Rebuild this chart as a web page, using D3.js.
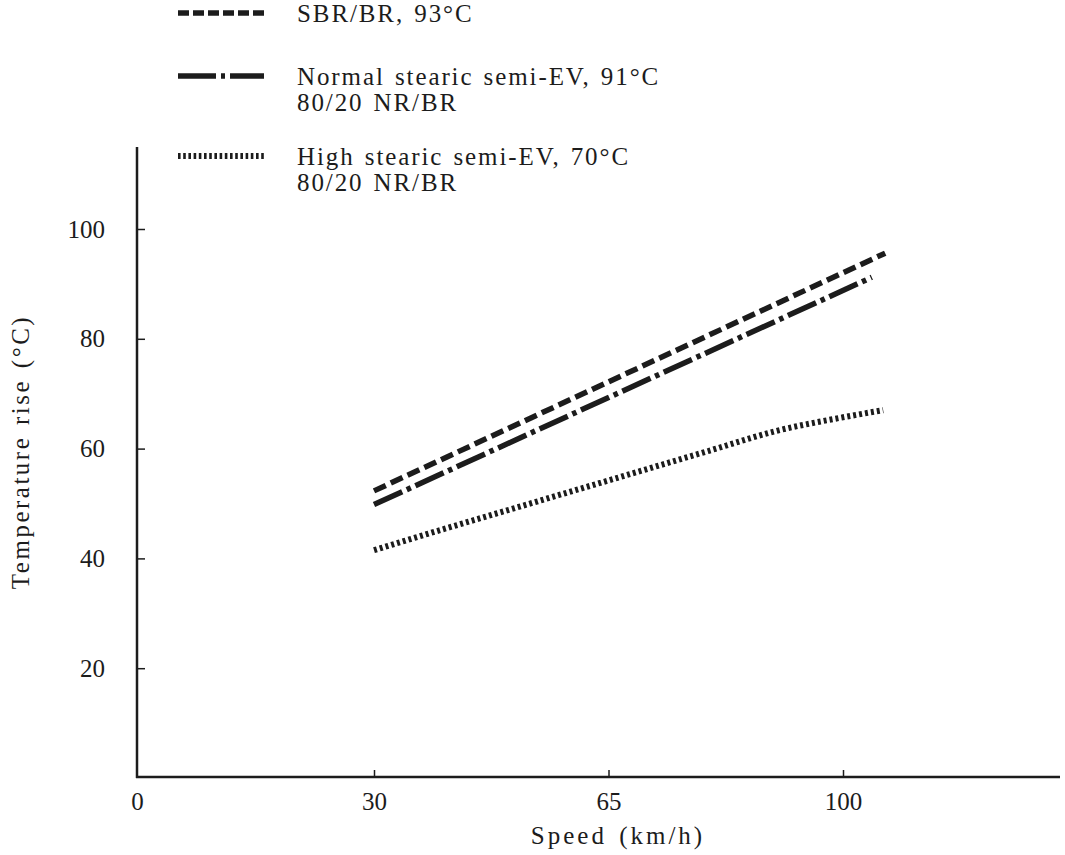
<!DOCTYPE html>
<html>
<head>
<meta charset="utf-8">
<script src="https://cdn.jsdelivr.net/npm/d3@7"></script>
<style>
  body { margin: 0; background: #fff; }
  svg text { font-family: "Liberation Serif", "Times New Roman", serif; fill: #1c1c1c; }
</style>
</head>
<body>
<svg id="chart" width="1065" height="855"></svg>
<script>
// data (speed km/h, temperature rise °C)
var sbrData = [[30, 52.3], [106.3, 95.6]];
var normalData = [[30, 49.8], [104.3, 91.2]];
var highData = [[30, 41.5], [40, 45.2], [50, 48.8], [60, 52.4], [70, 56], [80, 59.6], [90, 63.2], [100, 65.7], [106, 67]];

var xTicks = [0, 30, 65, 100];
var yTicks = [20, 40, 60, 80, 100];

var legendItems = [
    {lines: ["SBR/BR, 93°C"], dash: "11,4", y: 13},
    {lines: ["Normal stearic semi-EV, 91°C", "80/20 NR/BR"], dash: "38,5,4,5,40", y: 76},
    {lines: ["High stearic semi-EV, 70°C", "80/20 NR/BR"], dash: "2.6,2.6", y: 156}
];

var svg = d3.select("#chart");
var ink = "#1c1c1c";
var fs = 25;

// the speed axis is broken between 0 and 30
var x = d3.scaleLinear().domain([0, 30, 100]).range([137, 374, 843]);
var y = d3.scaleLinear().domain([0, 100]).range([778, 229]);

// axes
var yAxis = d3.axisLeft(y).tickValues(yTicks).tickSize(-8).tickPadding(32);
var gy = svg.append("g").attr("transform", "translate(137,0)").call(yAxis);
gy.select(".domain").remove();
gy.selectAll(".tick line").attr("stroke", ink).attr("stroke-width", 1.5);
gy.selectAll(".tick text").attr("font-size", fs).attr("fill", ink).attr("font-family", "Liberation Serif");

svg.append("line")
    .attr("x1", 137).attr("x2", 137).attr("y1", 147).attr("y2", 778)
    .attr("stroke", ink).attr("stroke-width", 2.5);

var xAxis = d3.axisBottom(x).tickValues(xTicks).tickSize(-7).tickPadding(15);
var gx = svg.append("g").attr("transform", "translate(0,777)").call(xAxis);
gx.select(".domain").remove();
gx.selectAll(".tick line").attr("stroke", ink).attr("stroke-width", 1.5)
    .attr("opacity", function(d) { return d == 0 ? 0 : 1; });
gx.selectAll(".tick text").attr("font-size", fs).attr("fill", ink).attr("font-family", "Liberation Serif");

svg.append("line")
    .attr("x1", 136).attr("x2", 1060).attr("y1", 777).attr("y2", 777)
    .attr("stroke", ink).attr("stroke-width", 2.5);

// axis titles
svg.append("text")
    .attr("x", 618).attr("y", 844)
    .attr("text-anchor", "middle")
    .attr("font-size", fs)
    .attr("letter-spacing", 3)
    .attr("word-spacing", 3)
    .text("Speed (km/h)");

svg.append("text")
    .attr("transform", "translate(29,452) rotate(-90)")
    .attr("text-anchor", "middle")
    .attr("font-size", fs)
    .attr("letter-spacing", 2.5)
    .attr("word-spacing", 2)
    .text("Temperature rise (°C)");

// curves
var line = d3.line()
    .x(function(d) { return x(d[0]); })
    .y(function(d) { return y(d[1]); })
    .curve(d3.curveMonotoneX);

var series = [
    {data: sbrData, dash: "13,5.5"},
    {data: normalData, dash: "31,5,4.5,5"},
    {data: highData, dash: "3,3"}
];

svg.selectAll("path.series")
    .data(series)
    .enter().append("path")
    .attr("class", "series")
    .attr("d", function(d) { return line(d.data); })
    .attr("fill", "none")
    .attr("stroke", ink)
    .attr("stroke-width", function(d, i) { return i == 2 ? 6 : 5.5; })
    .attr("stroke-dasharray", function(d) { return d.dash; });

// legend
var leg = svg.selectAll("g.legend")
    .data(legendItems)
    .enter().append("g")
    .attr("class", "legend");

leg.append("line")
    .attr("x1", 178).attr("x2", 264)
    .attr("y1", function(d) { return d.y; })
    .attr("y2", function(d) { return d.y; })
    .attr("stroke", ink)
    .attr("stroke-width", function(d, i) { return i == 2 ? 6 : 5.5; })
    .attr("stroke-dasharray", function(d) { return d.dash; });

leg.each(function(d) {
    var g = d3.select(this);
    d.lines.forEach(function(t, k) {
        g.append("text")
            .attr("x", 297)
            .attr("y", d.y + 9 + k * 26)
            .attr("font-size", fs)
            .attr("letter-spacing", 1.9)
            .attr("word-spacing", 2)
            .text(t);
    });
});
</script>
</body>
</html>
